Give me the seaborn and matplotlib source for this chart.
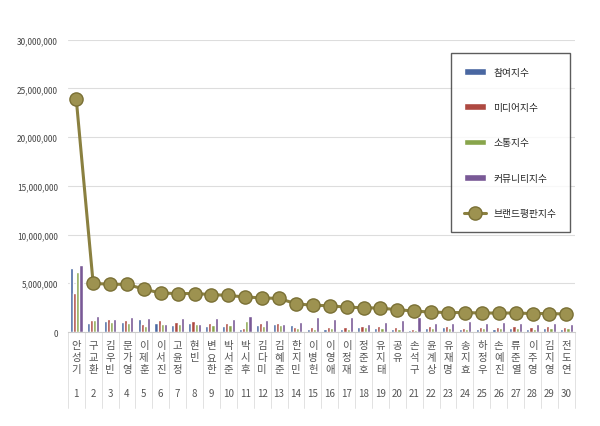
import numpy as np
import pandas as pd
import seaborn as sns
import matplotlib.pyplot as plt
from matplotlib.ticker import FuncFormatter

sns.set_style("white")
plt.rcParams['font.family'] = ['Noto Sans CJK KR', 'DejaVu Sans']

names = ["안성기", "구교환", "김우빈", "문가영", "이제훈", "이서진", "고윤정", "현빈", "변요한", "박서준",
         "박시후", "김다미", "김혜준", "한지민", "이병헌", "이영애", "이정재", "정준호", "유지태", "공유",
         "손석구", "윤계상", "유재명", "송지효", "하정우", "손예진", "류준열", "이주영", "김지영", "전도연"]
participation = [6.6, 0.9, 1.1, 1.0, 1.3, 0.9, 0.7, 0.9, 0.6, 0.6, 0.3, 0.7, 0.8, 0.7, 0.3, 0.3, 0.3, 0.5, 0.4, 0.3,
                 0.2, 0.4, 0.5, 0.3, 0.3, 0.3, 0.4, 0.3, 0.4, 0.3]
media = [4.0, 1.2, 1.3, 1.2, 0.8, 1.2, 1.0, 1.1, 0.9, 0.9, 0.4, 0.9, 0.9, 0.5, 0.5, 0.5, 0.5, 0.6, 0.6, 0.5,
         0.3, 0.6, 0.6, 0.4, 0.5, 0.5, 0.6, 0.5, 0.6, 0.5]
communication = [6.2, 1.2, 1.0, 0.9, 0.6, 0.8, 0.8, 0.8, 0.7, 0.7, 1.1, 0.6, 0.7, 0.4, 0.3, 0.4, 0.3, 0.5, 0.4, 0.3,
                 0.2, 0.4, 0.4, 0.3, 0.4, 0.4, 0.4, 0.3, 0.4, 0.4]
community = [6.9, 1.6, 1.3, 1.5, 1.4, 0.8, 1.4, 0.8, 1.4, 1.3, 1.6, 1.2, 0.8, 1.0, 1.5, 1.3, 1.5, 0.8, 1.0, 1.2,
             1.5, 0.9, 0.9, 1.1, 0.9, 1.0, 0.9, 0.8, 0.9, 0.8]
brand = [23.9, 5.0, 4.9, 4.9, 4.4, 4.0, 3.95, 3.95, 3.85, 3.75, 3.6, 3.5, 3.45, 2.9, 2.75, 2.7, 2.55, 2.5, 2.45, 2.3,
         2.15, 2.05, 2.0, 2.0, 1.95, 1.95, 1.95, 1.9, 1.9, 1.85]
series = ["참여지수", "미디어지수", "소통지수", "커뮤니티지수"]
colors = ["#3a62b0", "#c0392f", "#8db43c", "#7a4fa0"]

labels = ["\n".join(n) for n in names]
wide = pd.DataFrame({"name": labels, series[0]: participation, series[1]: media,
                     series[2]: communication, series[3]: community})
long = wide.melt(id_vars="name", var_name="지수", value_name="value")
long["value"] *= 1e6

fig = plt.figure(figsize=(6, 4.27), dpi=100)
ax = fig.add_axes([0.113, 0.22, 0.845, 0.685])
sns.barplot(data=long, x="name", y="value", hue="지수", palette=colors, width=0.75, ax=ax)
ax.plot(range(len(brand)), np.array(brand) * 1e6, color="#8a8040", lw=2.2, marker="o", ms=9.5,
        mfc="#9d9250", mec="#7a7035", label="브랜드평판지수", zorder=5)

ax.set_ylim(0, 30e6)
ax.set_xlim(-0.5, 29.5)
ax.yaxis.set_major_formatter(FuncFormatter(lambda v, p: f"{int(v):,}"))
ax.tick_params(axis="y", labelsize=6, colors="#444444")
ax.tick_params(axis="x", labelsize=7.5, colors="#555555", length=0, pad=6)
for t in ax.get_xticklabels():
    t.set_verticalalignment("top")
for i in range(len(names)):
    ax.text(i, -0.21, str(i + 1), transform=ax.get_xaxis_transform(), ha="center", va="center",
            fontsize=7, color="#555555")
ax.grid(axis="y", color="#dddddd", lw=0.8)
ax.set_axisbelow(True)
for s in ["top", "right", "left"]:
    ax.spines[s].set_visible(False)
ax.spines["bottom"].set_color("#cccccc")
for i in range(31):
    ax.axvline(i - 0.5, ymin=-0.26, ymax=0, color="#dddddd", lw=0.6, clip_on=False)
ax.set_xlabel("")
ax.set_ylabel("")

leg = ax.legend(loc="upper right", bbox_to_anchor=(1.0, 0.97), fontsize=7, frameon=True,
                labelspacing=2.6, borderpad=1.4, handlelength=2.2, fancybox=False)
leg.get_frame().set_edgecolor("#333333")

fig.savefig("out.png", dpi=100)
